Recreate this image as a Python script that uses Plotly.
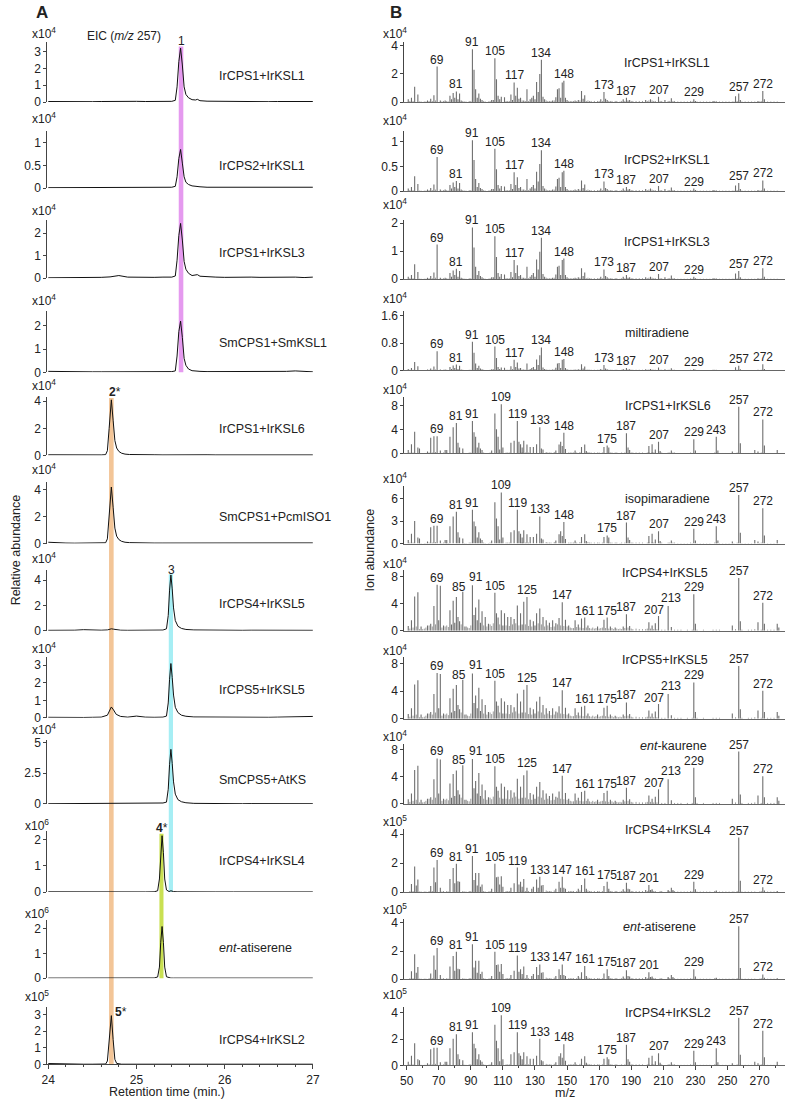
import plotly.graph_objects as go

# ===================== DATA =====================
# ---- Panel A: EIC (m/z 257) chromatograms; abundance in units of 10^exp ----
rt_a = [24.0, 24.1, 24.2, 24.3, 24.4, 24.5, 24.6, 24.7, 24.8, 24.9, 25.0, 25.1, 25.2, 25.3, 25.4,
        25.44, 25.46, 25.48, 25.50, 25.52, 25.54, 25.56, 25.59, 25.63, 25.67, 25.69, 25.72, 25.8,
        25.9, 26.0, 26.1, 26.2, 26.3, 26.4, 26.5, 26.6, 26.7, 26.8, 26.9, 27.0]
rt_b = [24.0, 24.1, 24.2, 24.3, 24.4, 24.5, 24.6, 24.65, 24.67, 24.69, 24.715, 24.735, 24.755,
        24.775, 24.80, 24.83, 24.87, 24.92, 25.0, 25.1, 25.2, 25.3, 25.4, 25.5, 25.6, 25.7, 25.8,
        25.9, 26.0, 26.1, 26.2, 26.3, 26.4, 26.5, 26.6, 26.7, 26.8, 26.9, 27.0]
rt_c = [24.0, 24.1, 24.2, 24.3, 24.4, 24.5, 24.6, 24.67, 24.69, 24.715, 24.74, 24.77, 24.82, 24.9,
        25.0, 25.1, 25.2, 25.3, 25.34, 25.36, 25.375, 25.39, 25.405, 25.42, 25.44, 25.47, 25.51,
        25.56, 25.65, 25.8, 25.9, 26.0, 26.1, 26.2, 26.3, 26.4, 26.5, 26.6, 26.7, 26.8, 26.9, 27.0]
rt_d = [24.0, 24.2, 24.4, 24.6, 24.8, 25.0, 25.1, 25.2, 25.24, 25.26, 25.275, 25.29, 25.305, 25.32,
        25.34, 25.37, 25.39, 25.42, 25.46, 25.55, 25.7, 25.9, 26.1, 26.3, 26.5, 26.7, 26.9, 27.0]

ab_irCPS1_irKSL1 = [0.03, 0.02, 0.03, 0.02, 0.03, 0.02, 0.03, 0.04, 0.05, 0.06, 0.04, 0.03, 0.04, 0.03,
                    0.04, 0.10, 0.9, 2.4, 3.2, 2.2, 0.9, 0.45, 0.25, 0.14, 0.12, 0.16, 0.08, 0.05, 0.04,
                    0.03, 0.04, 0.03, 0.04, 0.03, 0.02, 0.03, 0.02, 0.03, 0.02, 0.03]
ab_irCPS2_irKSL1 = [0.01, 0.01, 0.01, 0.01, 0.02, 0.01, 0.02, 0.01, 0.01, 0.02, 0.01, 0.02, 0.01, 0.02,
                    0.02, 0.04, 0.25, 0.65, 0.85, 0.55, 0.25, 0.13, 0.08, 0.05, 0.04, 0.03, 0.03, 0.02,
                    0.02, 0.01, 0.02, 0.01, 0.02, 0.01, 0.01, 0.02, 0.01, 0.02, 0.01, 0.02]
ab_irCPS1_irKSL3 = [0.02, 0.02, 0.03, 0.02, 0.03, 0.03, 0.04, 0.06, 0.12, 0.05, 0.04, 0.05, 0.04, 0.05,
                    0.05, 0.10, 0.8, 1.9, 2.44, 1.7, 0.75, 0.40, 0.22, 0.12, 0.14, 0.16, 0.09, 0.06,
                    0.05, 0.04, 0.05, 0.04, 0.05, 0.04, 0.05, 0.04, 0.04, 0.05, 0.03, 0.05]
ab_smCPS1_smKSL1 = [0.04, 0.03, 0.02, 0.02, 0.02, 0.02, 0.02, 0.02, 0.03, 0.02, 0.02, 0.02, 0.02, 0.02,
                    0.03, 0.06, 0.7, 1.75, 2.2, 1.5, 0.6, 0.3, 0.14, 0.07, 0.05, 0.04, 0.04, 0.03,
                    0.03, 0.02, 0.02, 0.03, 0.02, 0.03, 0.02, 0.03, 0.04, 0.06, 0.03, 0.02]
ab_irCPS1_irKSL6 = [0.05, 0.04, 0.03, 0.03, 0.03, 0.03, 0.04, 0.06, 0.35, 2.0, 4.1, 2.6, 1.1, 0.55, 0.3,
                    0.17, 0.1, 0.07, 0.05, 0.05, 0.05, 0.04, 0.05, 0.04, 0.04, 0.04, 0.05, 0.04, 0.04,
                    0.05, 0.04, 0.04, 0.05, 0.04, 0.04, 0.04, 0.05, 0.04, 0.04]
ab_smCPS1_pcmISO1 = [0.1, 0.05, 0.04, 0.03, 0.03, 0.03, 0.04, 0.06, 0.35, 2.0, 4.2, 2.7, 1.15, 0.55, 0.3,
                     0.17, 0.1, 0.07, 0.05, 0.04, 0.04, 0.04, 0.04, 0.04, 0.04, 0.04, 0.04, 0.04, 0.04,
                     0.04, 0.04, 0.04, 0.04, 0.04, 0.04, 0.04, 0.05, 0.04, 0.05]
ab_irCPS4_irKSL5 = [0.03, 0.02, 0.03, 0.04, 0.08, 0.03, 0.04, 0.06, 0.1, 0.15, 0.12, 0.07, 0.04, 0.03,
                    0.04, 0.03, 0.04, 0.05, 0.15, 1.2, 3.2, 4.4, 3.3, 1.8, 0.8, 0.35, 0.18, 0.1, 0.06,
                    0.04, 0.03, 0.04, 0.03, 0.03, 0.04, 0.03, 0.03, 0.04, 0.03, 0.03, 0.04, 0.03]
ab_irCPS5_irKSL5 = [0.03, 0.02, 0.03, 0.03, 0.02, 0.03, 0.04, 0.15, 0.4, 0.62, 0.45, 0.2, 0.08, 0.04,
                    0.1, 0.04, 0.03, 0.04, 0.1, 0.85, 2.2, 3.1, 2.3, 1.3, 0.6, 0.3, 0.15, 0.09, 0.05,
                    0.04, 0.03, 0.04, 0.03, 0.03, 0.04, 0.03, 0.03, 0.04, 0.04, 0.05, 0.06, 0.08]
ab_smCPS5_atKS = [0.02, 0.02, 0.03, 0.02, 0.02, 0.03, 0.02, 0.03, 0.03, 0.04, 0.03, 0.03, 0.02, 0.03,
                  0.02, 0.03, 0.04, 0.08, 0.15, 1.2, 3.2, 4.45, 3.3, 1.8, 0.8, 0.35, 0.18, 0.1, 0.05,
                  0.03, 0.02, 0.03, 0.02, 0.02, 0.03, 0.02, 0.02, 0.03, 0.02, 0.02, 0.02, 0.02]
ab_irCPS4_irKSL4 = [0.01, 0.005, 0.005, 0.005, 0.005, 0.005, 0.005, 0.01, 0.05, 0.5, 1.5, 2.15, 1.5, 0.5,
                    0.08, 0.02, 0.05, 0.02, 0.01, 0.005, 0.005, 0.005, 0.005, 0.005, 0.005, 0.005,
                    0.005, 0.005]
ab_ent_atiserene = [0.005, 0.005, 0.005, 0.005, 0.005, 0.005, 0.005, 0.01, 0.05, 0.45, 1.45, 2.09, 1.45,
                    0.45, 0.06, 0.01, 0.005, 0.005, 0.005, 0.005, 0.005, 0.005, 0.005, 0.005, 0.005,
                    0.005, 0.005, 0.005]
ab_irCPS4_irKSL2 = [0.05, 0.03, 0.02, 0.01, 0.01, 0.01, 0.01, 0.02, 0.2, 1.4, 2.93, 1.5, 0.3, 0.06, 0.02,
                    0.01, 0.01, 0.01, 0.01, 0.01, 0.01, 0.01, 0.01, 0.01, 0.01, 0.01, 0.01, 0.01, 0.01,
                    0.01, 0.01, 0.01, 0.01, 0.01, 0.01, 0.01, 0.01, 0.01, 0.01]

chrom_names = ["IrCPS1+IrKSL1", "IrCPS2+IrKSL1", "IrCPS1+IrKSL3", "SmCPS1+SmKSL1", "IrCPS1+IrKSL6",
               "SmCPS1+PcmISO1", "IrCPS4+IrKSL5", "IrCPS5+IrKSL5", "SmCPS5+AtKS", "IrCPS4+IrKSL4",
               "<i>ent</i>-atiserene", "IrCPS4+IrKSL2"]
chrom_rt = [rt_a, rt_a, rt_a, rt_a, rt_b, rt_b, rt_c, rt_c, rt_c, rt_d, rt_d, rt_b]
chrom_ab = [ab_irCPS1_irKSL1, ab_irCPS2_irKSL1, ab_irCPS1_irKSL3, ab_smCPS1_smKSL1, ab_irCPS1_irKSL6,
            ab_smCPS1_pcmISO1, ab_irCPS4_irKSL5, ab_irCPS5_irKSL5, ab_smCPS5_atKS, ab_irCPS4_irKSL4,
            ab_ent_atiserene, ab_irCPS4_irKSL2]
chrom_exp = [4, 4, 4, 4, 4, 4, 4, 4, 4, 6, 6, 5]
chrom_ticks = [[0, 1, 2, 3], [0, 0.5, 1], [0, 1, 2], [0, 1, 2], [0, 2, 4], [0, 2, 4], [0, 2, 4],
               [0, 1, 2, 3], [0, 2.5, 5], [0, 1, 2], [0, 1, 2], [0, 1, 2, 3]]
time_ticks = [24, 25, 26, 27]

# ---- Panel B: mass spectra (relative intensity %, per compound) ----
mz_milti = [51, 53, 55, 57, 63, 65, 67, 69, 71, 74, 77, 78, 79, 80, 81, 82, 83, 84, 91, 92, 93, 94, 95,
            96, 97, 103, 104, 105, 106, 107, 108, 109, 111, 115, 116, 117, 118, 119, 120, 121, 123,
            125, 127, 128, 129, 130, 131, 132, 133, 134, 135, 136, 141, 143, 144, 145, 146, 147, 148,
            149, 150, 155, 157, 159, 160, 161, 171, 173, 174, 175, 185, 187, 188, 189, 199, 202, 207,
            211, 215, 229, 230, 241, 255, 257, 258, 269, 272, 273]
rel_milti = [5, 8, 29, 14, 3, 6, 13, 67, 3, 3, 12, 5, 17, 8, 20, 5, 16, 3, 100, 61, 24, 8, 16, 6, 4, 4,
             4, 83, 43, 12, 5, 10, 9, 14, 4, 37, 12, 27, 6, 8, 3, 24, 5, 8, 12, 5, 38, 19, 53, 80, 10,
             5, 3, 9, 24, 26, 8, 37, 40, 8, 4, 3, 4, 21, 6, 13, 5, 19, 6, 4, 5, 8, 3, 4, 4, 5, 10, 4,
             7, 5, 2, 2, 11, 16, 4, 2, 21, 5]
mz_isopim = [51, 53, 55, 57, 58, 63, 65, 67, 69, 71, 74, 75, 77, 79, 81, 82, 83, 85, 91, 92, 93, 94, 95,
             96, 97, 103, 105, 106, 107, 108, 109, 110, 115, 117, 119, 120, 121, 122, 123, 125, 127,
             129, 131, 133, 134, 135, 143, 145, 146, 147, 148, 149, 155, 159, 161, 162, 173, 175, 176,
             187, 188, 189, 201, 203, 205, 207, 208, 215, 229, 230, 243, 244, 253, 257, 258, 267, 269,
             272, 273, 281]
rel_isopim = [7, 19, 44, 12, 10, 4, 32, 35, 35, 6, 7, 7, 34, 53, 62, 22, 12, 10, 66, 43, 34, 12, 22, 10,
              7, 6, 81, 49, 34, 8, 100, 12, 22, 26, 66, 24, 19, 12, 26, 18, 13, 13, 19, 53, 10, 8, 6,
              18, 24, 15, 42, 9, 6, 13, 18, 5, 13, 16, 12, 41, 12, 7, 15, 19, 8, 24, 5, 6, 29, 6, 34,
              6, 4, 95, 21, 7, 4, 69, 16, 7]
mz_kaur = [51, 53, 55, 57, 59, 63, 65, 67, 69, 70, 71, 73, 77, 78, 79, 80, 81, 82, 83, 85, 87, 91, 92,
           93, 94, 95, 96, 97, 99, 101, 105, 106, 107, 109, 110, 111, 113, 115, 117, 119, 121, 122,
           123, 125, 127, 129, 130, 131, 133, 135, 137, 139, 141, 143, 145, 147, 149, 151, 155, 157,
           159, 161, 163, 169, 173, 175, 177, 180, 185, 187, 189, 201, 203, 205, 207, 213, 215, 229,
           230, 253, 257, 258, 269, 272, 273, 281, 282]
rel_kaur = [9, 20, 65, 73, 8, 10, 13, 47, 87, 20, 85, 10, 39, 12, 57, 15, 64, 26, 18, 74, 8, 86, 30, 44,
            20, 59, 15, 37, 26, 13, 72, 33, 25, 39, 10, 33, 26, 26, 22, 48, 33, 12, 55, 64, 21, 18,
            10, 33, 42, 26, 20, 15, 20, 14, 24, 54, 21, 10, 20, 12, 23, 25, 10, 8, 21, 25, 8, 6, 8,
            31, 9, 16, 10, 14, 28, 47, 7, 69, 13, 10, 100, 18, 16, 53, 13, 13, 6]
mz_atis = [53, 55, 56, 57, 65, 67, 68, 69, 71, 77, 79, 80, 81, 82, 83, 91, 92, 93, 94, 95, 96, 97, 103,
           105, 106, 107, 108, 109, 110, 115, 117, 119, 120, 121, 122, 123, 125, 128, 129, 131, 132,
           133, 134, 135, 143, 145, 146, 147, 148, 149, 157, 159, 161, 162, 173, 175, 176, 185, 187,
           188, 189, 199, 201, 202, 203, 213, 215, 216, 229, 230, 243, 257, 258, 272, 273, 281]
rel_atis = [15, 47, 12, 23, 11, 45, 18, 59, 8, 24, 44, 16, 52, 20, 19, 66, 22, 35, 12, 35, 10, 14, 6, 52,
            27, 28, 14, 29, 10, 8, 16, 45, 14, 19, 10, 24, 8, 6, 10, 23, 8, 28, 12, 13, 6, 19, 8, 28,
            8, 6, 6, 13, 25, 6, 11, 19, 6, 5, 17, 6, 5, 4, 13, 4, 5, 4, 8, 4, 19, 5, 3, 100, 21, 9, 3, 2]

# minor (background) ions, relative %
mz_bg_low = [52, 54, 58, 59, 61, 62, 64, 66, 68, 72, 73, 75, 76, 85, 86, 87, 89, 90, 98, 99, 101, 102,
             112, 113, 114, 122, 124, 126, 137, 138, 139, 140, 142, 151, 152, 153, 154, 156, 158, 162,
             163, 164, 165, 167, 169, 170, 172, 176, 177, 178, 180, 181, 183, 184, 186, 190, 191, 193,
             195, 197, 200, 201, 203, 204, 205, 208, 209, 213, 214, 216, 217, 219, 221, 223, 225, 227,
             228, 231, 233, 235, 237, 239, 242, 243, 245, 247, 249, 251, 253, 254, 256, 259, 261, 263,
             265, 267, 270, 271, 275, 277, 279, 281]
rel_bg_low = [2, 2, 1, 1, 1, 1, 2, 2, 3, 1, 2, 2, 1, 2, 1, 1, 2, 2, 2, 1, 1, 2, 2, 2, 2, 3, 2, 2, 3, 2,
              2, 2, 3, 2, 2, 2, 2, 2, 3, 2, 3, 2, 2, 2, 2, 2, 2, 2, 2, 2, 2, 2, 1, 2, 2, 2, 2, 2, 2, 2,
              2, 3, 3, 2, 2, 2, 2, 2, 2, 2, 2, 1, 1, 1, 1, 2, 1, 1, 1, 1, 1, 1, 2, 2, 1, 1, 1, 1, 1, 1,
              2, 1, 1, 1, 1, 1, 1, 2, 1, 1, 1, 1]
mz_bg_kaur = [52, 54, 56, 58, 60, 61, 62, 64, 66, 68, 72, 74, 75, 76, 84, 86, 88, 89, 90, 98, 100, 102,
              103, 104, 108, 112, 114, 116, 118, 120, 124, 126, 128, 132, 134, 136, 138, 140, 142, 144,
              146, 148, 150, 152, 153, 154, 156, 158, 160, 162, 164, 165, 166, 167, 168, 170, 171, 172,
              174, 176, 178, 179, 181, 182, 183, 184, 186, 188, 190, 191, 193, 195, 197, 199, 200, 202,
              204, 206, 209, 211, 217, 219, 221, 225, 228, 231, 235, 241, 243, 245, 255, 259, 263, 265,
              267, 271, 275, 277, 279]
rel_bg_kaur = [4, 6, 8, 3, 3, 4, 6, 10, 8, 12, 6, 8, 10, 7, 12, 8, 6, 5, 10, 10, 8, 12, 9, 14, 12, 10,
               9, 12, 14, 10, 12, 9, 8, 14, 12, 8, 10, 7, 8, 12, 10, 9, 8, 6, 5, 5, 7, 6, 5, 6, 5, 4,
               6, 4, 5, 4, 5, 6, 5, 4, 5, 3, 4, 3, 4, 3, 5, 6, 4, 3, 4, 3, 3, 3, 4, 4, 3, 3, 2, 2, 2,
               2, 2, 2, 2, 2, 2, 2, 2, 2, 3, 2, 2, 2, 3, 2, 2, 2, 2]

lab_milti = [69, 81, 91, 105, 117, 134, 148, 173, 187, 207, 229, 257, 272]
lab_isopim = [69, 81, 91, 109, 119, 133, 148, 175, 187, 207, 229, 243, 257, 272]
lab_kaur = [69, 85, 91, 105, 125, 147, 161, 175, 187, 207, 213, 229, 257, 272]
lab_atis = [69, 81, 91, 105, 119, 133, 147, 161, 175, 187, 201, 229, 257, 272]

spectra = {"milti": (mz_milti, rel_milti, lab_milti, mz_bg_low, rel_bg_low),
           "isopim": (mz_isopim, rel_isopim, lab_isopim, mz_bg_low, rel_bg_low),
           "kaur": (mz_kaur, rel_kaur, lab_kaur, mz_bg_kaur, rel_bg_kaur),
           "atis": (mz_atis, rel_atis, lab_atis, mz_bg_low, rel_bg_low)}
spec_names = ["IrCPS1+IrKSL1", "IrCPS2+IrKSL1", "IrCPS1+IrKSL3", "miltiradiene", "IrCPS1+IrKSL6",
              "isopimaradiene", "IrCPS4+IrKSL5", "IrCPS5+IrKSL5", "<i>ent</i>-kaurene", "IrCPS4+IrKSL4",
              "<i>ent</i>-atiserene", "IrCPS4+IrKSL2"]
spec_group = ["milti", "milti", "milti", "milti", "isopim", "isopim", "kaur", "kaur", "kaur", "atis",
              "atis", "isopim"]
spec_base_peak = [3.76, 1.03, 1.85, 0.84, 8.3, 6.8, 7.84, 7.66, 7.67, 3.77, 3.76, 3.8]
spec_exp = [4, 4, 4, 4, 4, 4, 4, 4, 4, 5, 5, 5]
spec_ticks = [[0, 2, 4], [0, 0.5, 1], [0, 1, 2], [0, 0.8, 1.6], [0, 4, 8], [0, 3, 6], [0, 4, 8],
              [0, 4, 8], [0, 4, 8], [0, 2, 4], [0, 2, 4], [0, 2, 4]]
mz_ticks = [50, 70, 90, 110, 130, 150, 170, 190, 210, 230, 250, 270]

# ===================== LAYOUT (pixel geometry) =====================
W, H = 795, 1107
def xp(px): return px / W
def yp(py): return 1 - py / H

L_base = [99, 186, 277, 372, 456, 545, 633, 721, 808, 897, 984, 1071]
L_unit = [17, 46, 22.7, 23.5, 13.7, 13.6, 12.8, 17.7, 12.4, 26.5, 25, 16.8]
L_top = [38, 128, 218, 310, 397, 483, 572, 660, 743, 835, 925, 1013]
R_base = [99, 189, 278, 370, 454, 545, 633, 722, 808, 897, 985, 1072]
R_unit = [14.2, 50, 28.3, 34.4, 6.0, 7.6, 6.8, 6.96, 6.9, 14.6, 14.2, 13.3]
R_top = [38, 128, 218, 310, 397, 487, 572, 660, 747, 833, 924, 1013]
L_name_y = [73, 164, 252, 342, 429, 518, 606, 693, 784, 866, 953, 1046]
R_name_x = [672, 672, 672, 662, 673, 673, 670, 670, 679, 673, 664, 673]
R_name_y = [60, 158, 240, 332, 406, 500, 575, 663, 749, 834, 932, 1019]
L_exp_y = [32, 118, 211, 302, 388, 473, 563, 653, 735, 832, 921, 1005]
R_exp_y = [32, 120, 205, 300, 392, 482, 568, 655, 742, 828, 917, 1003]
# per-label pixel nudges (x, y) for crowded peak labels
label_nudge = {("kaur", 85): (-4, 2), ("kaur", 91): (4, -1), ("kaur", 207): (-5, 1),
               ("kaur", 213): (3, -1)}

FONT = "Arial, Liberation Sans, Helvetica, sans-serif"
TXT = "#222222"
AX = "#444444"

fig = go.Figure()
layout = {}
annotations = []

def ann(text, x, y, size=12, xanchor="center", yanchor="middle", **kw):
    annotations.append(dict(text=text, x=xp(x), y=yp(y), xref="paper", yref="paper",
                            xanchor=xanchor, yanchor=yanchor, showarrow=False,
                            font=dict(family=FONT, size=size, color=TXT), **kw))

def sticks(mz, vals):
    sx, sy = [], []
    for x, v in zip(mz, vals):
        sx += [x, x, None]
        sy += [0, v, None]
    return sx, sy

for i in range(12):
    # ---------- chromatogram (left) ----------
    n = 2 * i + 1
    last = (i == 11)
    fig.add_trace(go.Scatter(x=chrom_rt[i], y=chrom_ab[i], mode="lines",
                             line=dict(color="#111111", width=1), xaxis=f"x{n}", yaxis=f"y{n}",
                             showlegend=False, hoverinfo="skip"))
    layout[f"xaxis{n}"] = dict(domain=[xp(42), xp(312)], range=[23.989, 27.0], anchor=f"y{n}",
                               showgrid=False, zeroline=False, showline=last, linecolor=AX,
                               ticks="outside" if last else "", ticklen=4, tickcolor=AX,
                               tickvals=time_ticks if last else [], showticklabels=last,
                               tickfont=dict(family=FONT, size=12, color=TXT),
                               minor=dict(dtick=0.2, ticks="outside" if last else "", ticklen=2,
                                          tickcolor=AX, showgrid=False))
    layout[f"yaxis{n}"] = dict(domain=[yp(L_base[i]), yp(L_top[i])],
                               range=[0, (L_base[i] - L_top[i]) / L_unit[i]], anchor=f"x{n}",
                               showgrid=False, zeroline=False, showline=True, linecolor=AX,
                               ticks="outside", ticklen=3, tickcolor=AX, tickvals=chrom_ticks[i],
                               ticktext=[f"{v:g}" for v in chrom_ticks[i]],
                               tickfont=dict(family=FONT, size=12, color=TXT))
    ann(chrom_names[i], 214, L_name_y[i], size=12.5, xanchor="left")
    ann(f"x10<sup>{chrom_exp[i]}</sup>", 24 if chrom_exp[i] == 4 else 17, L_exp_y[i] - 3,
        size=12, xanchor="left")

    # ---------- mass spectrum (right): one thin stick per ion ----------
    m = 2 * i + 2
    grp = spec_group[i]
    mz, rel, labs, mz_bg, rel_bg = spectra[grp]
    base = spec_base_peak[i]
    vals = [r / 100 * base for r in rel]
    bx, by = sticks(mz_bg, [r / 100 * base for r in rel_bg])
    fig.add_trace(go.Scatter(x=bx, y=by, mode="lines", line=dict(color="#9a9a9a", width=1),
                             xaxis=f"x{m}", yaxis=f"y{m}", showlegend=False, hoverinfo="skip"))
    sx, sy = sticks(mz, vals)
    fig.add_trace(go.Scatter(x=sx, y=sy, mode="lines", line=dict(color="#6f6f6f", width=1.1),
                             xaxis=f"x{m}", yaxis=f"y{m}", showlegend=False, hoverinfo="skip"))
    layout[f"xaxis{m}"] = dict(domain=[xp(405), xp(792)], range=[48.59, 285.87], anchor=f"y{m}",
                               showgrid=False, zeroline=False, showline=True, linecolor="#666666",
                               ticks="outside" if last else "", ticklen=4, tickcolor=AX,
                               tickvals=mz_ticks if last else [], showticklabels=last,
                               tickfont=dict(family=FONT, size=12, color=TXT),
                               minor=dict(dtick=10, tick0=50, ticks="outside" if last else "",
                                          ticklen=2, tickcolor=AX, showgrid=False))
    layout[f"yaxis{m}"] = dict(domain=[yp(R_base[i]), yp(R_top[i])],
                               range=[0, (R_base[i] - R_top[i]) / R_unit[i]], anchor=f"x{m}",
                               showgrid=False, zeroline=False, showline=True, linecolor=AX,
                               ticks="outside", ticklen=3, tickcolor=AX, tickvals=spec_ticks[i],
                               ticktext=[f"{v:g}" for v in spec_ticks[i]],
                               tickfont=dict(family=FONT, size=12, color=TXT))
    ann(spec_names[i], R_name_x[i], R_name_y[i], size=12.5)
    ann(f"x10<sup>{spec_exp[i]}</sup>", 381, R_exp_y[i] - 3, size=12, xanchor="left")
    for lab in labs:
        top = max(v for x, v in zip(mz, vals) if abs(x - lab) <= 1)
        dx, dy = label_nudge.get((grp, lab), (0, 0))
        annotations.append(dict(text=str(lab), x=lab, y=top, xref=f"x{m}", yref=f"y{m}",
                                xanchor="center", yanchor="bottom", xshift=dx, yshift=-2 - dy,
                                showarrow=False, font=dict(family=FONT, size=12, color=TXT)))

# peak labels on chromatograms
ann("1", 178, 37, size=12)
ann("<b>2</b>*", 110.5, 392, size=12)
ann("3", 168, 572, size=12)
ann("<b>4</b>*", 159, 832, size=12)
ann("<b>5</b>*", 117, 1018, size=12)

# titles
ann("<b>A</b>", 37, 9, size=17)
ann("<b>B</b>", 396, 9, size=17)
ann("EIC (<i>m/z</i> 257)", 120, 32, size=12)
ann("Relative abundance", 10, 551, size=12.5, textangle=-90)
ann("Ion abundance", 370, 551, size=12.5, textangle=-90)
ann("Retention time (min.)", 164, 1099, size=12.5)
ann("m/z", 568, 1100, size=12.5)

# highlight bands (retention-time positions of products 1-5)
band_specs = [  # (center min, half-width min, top px, bottom px, colour)
    (25.505, 0.026, 43, 372, "#E59AEF"),
    (24.715, 0.026, 398, 1071, "#F3C597"),
    (25.39, 0.024, 576, 897, "#A6EEF4"),
    (25.283, 0.023, 838, 984, "#C9E052"),
]
shapes = []
for c, hw, t, b, col in band_specs:
    shapes.append(dict(type="rect", xref="x", yref="paper", x0=c - hw, x1=c + hw, y0=yp(b), y1=yp(t),
                       fillcolor=col, line=dict(width=0), layer="below"))

fig.update_layout(width=W, height=H, margin=dict(l=0, r=0, t=0, b=0), paper_bgcolor="white",
                  plot_bgcolor="rgba(0,0,0,0)", showlegend=False, annotations=annotations,
                  shapes=shapes, font=dict(family=FONT, color=TXT), **layout)

fig.write_html("out.html", config={"displayModeBar": False},
               post_script="document.body.style.margin='0px';document.body.style.overflow='hidden';")
